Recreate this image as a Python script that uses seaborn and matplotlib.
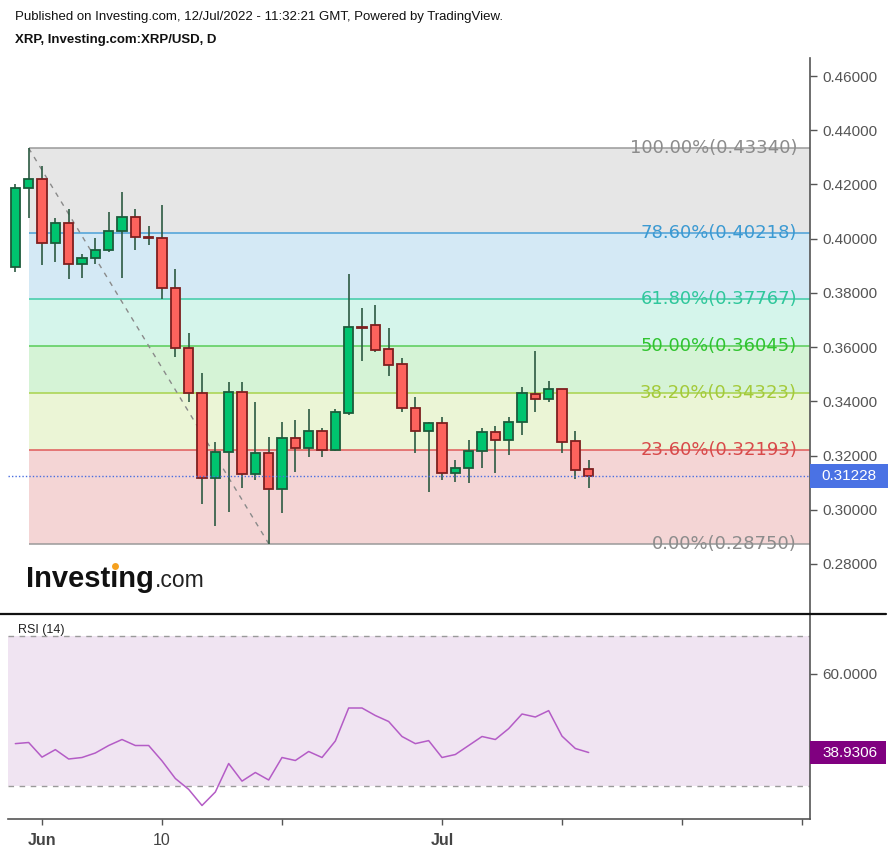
import numpy as np
import pandas as pd
import matplotlib
matplotlib.use('Agg')
import matplotlib.pyplot as plt
import matplotlib.dates as mdates
import matplotlib.transforms as mtransforms
from matplotlib.patches import Rectangle
from matplotlib.lines import Line2D
from matplotlib.ticker import FormatStrFormatter
import seaborn as sns

# ---------------- data ----------------
dates = pd.date_range('2022-05-30', '2022-07-12', freq='D')
opens = [0.3894, 0.4188, 0.4221, 0.3983, 0.4057, 0.3907, 0.3929, 0.3957, 0.4029, 0.4079,
         0.4005, 0.4003, 0.3817, 0.3596, 0.3430, 0.3116, 0.3214, 0.3436, 0.3132, 0.3208,
         0.3077, 0.3264, 0.3227, 0.3292, 0.3219, 0.3356, 0.3674, 0.3680, 0.3592, 0.3537,
         0.3375, 0.3292, 0.3320, 0.3137, 0.3153, 0.3216, 0.3286, 0.3258, 0.3325, 0.3426,
         0.3407, 0.3447, 0.3254, 0.3149]
highs = [0.4202, 0.4334, 0.4268, 0.4075, 0.4108, 0.3942, 0.4001, 0.4097, 0.4173, 0.4108,
         0.4047, 0.4124, 0.3887, 0.3653, 0.3503, 0.3249, 0.3470, 0.3470, 0.3399, 0.3267,
         0.3325, 0.3331, 0.3372, 0.3300, 0.3372, 0.3870, 0.3743, 0.3754, 0.3669, 0.3559,
         0.3415, 0.3325, 0.3343, 0.3184, 0.3256, 0.3300, 0.3310, 0.3343, 0.3454, 0.3587,
         0.3476, 0.3447, 0.3289, 0.3184]
lows = [0.3876, 0.4075, 0.3904, 0.3915, 0.3850, 0.3854, 0.3905, 0.3950, 0.3854, 0.3958,
        0.3976, 0.3776, 0.3565, 0.3399, 0.3020, 0.2941, 0.2991, 0.3079, 0.3110, 0.2875,
        0.2987, 0.3140, 0.3196, 0.3196, 0.3215, 0.3350, 0.3550, 0.3583, 0.3495, 0.3362,
        0.3208, 0.3064, 0.3110, 0.3104, 0.3098, 0.3153, 0.3134, 0.3202, 0.3276, 0.3362,
        0.3399, 0.3208, 0.3113, 0.3079]
closes = [0.4188, 0.4221, 0.3983, 0.4057, 0.3907, 0.3929, 0.3957, 0.4029, 0.4079, 0.4005,
          0.4003, 0.3817, 0.3596, 0.3430, 0.3116, 0.3214, 0.3436, 0.3132, 0.3208, 0.3077,
          0.3264, 0.3227, 0.3292, 0.3219, 0.3360, 0.3674, 0.3672, 0.3589, 0.3534, 0.3374,
          0.3292, 0.3320, 0.3137, 0.3153, 0.3216, 0.3286, 0.3258, 0.3325, 0.3431, 0.3407,
          0.3447, 0.3251, 0.3147, 0.31228]
rsi = [41.3, 41.6, 37.7, 39.7, 37.2, 37.6, 38.8, 40.8, 42.4, 40.8,
       40.8, 36.7, 32.0, 29.1, 24.8, 28.4, 36.0, 31.3, 33.6, 31.6,
       37.6, 36.8, 39.2, 37.6, 42.0, 50.8, 50.8, 48.8, 47.2, 43.2,
       41.3, 42.1, 37.6, 38.4, 40.8, 43.2, 42.4, 45.3, 49.2, 48.4,
       50.1, 43.3, 40.0, 38.9306]

fib_high = 0.4334
fib_low = 0.2875
fib_levels = [1.0, 0.786, 0.618, 0.5, 0.382, 0.236, 0.0]
fib_start = pd.Timestamp('2022-05-31')
fib_low_date = pd.Timestamp('2022-06-18')
last_price = 0.31228
last_rsi = 38.9306
price_ticks = [0.28, 0.30, 0.32, 0.34, 0.36, 0.38, 0.40, 0.42, 0.44, 0.46]
rsi_ticks = [60]
rsi_upper, rsi_lower = 70, 30
date_ticks = pd.to_datetime(['2022-06-01', '2022-06-10', '2022-06-19', '2022-07-01',
                             '2022-07-10', '2022-07-19', '2022-07-28'])
date_labels = ['Jun', '10', '', 'Jul', '', '', '']

# ---------------- style ----------------
W, H = 893, 852
sns.set_theme(style='white')
plt.rcParams['font.family'] = ['Liberation Sans', 'DejaVu Sans']

band_colors = ['#e6e6e6', '#d4e9f5', '#d5f5eb', '#d5f3d6', '#ebf5d6', '#f4d5d5']
line_colors = ['#9a9a9a', '#4aa0d8', '#3ecba6', '#58cc58', '#a8d34c', '#e05a5a', '#9a9a9a']
label_colors = ['#8c8c8c', '#3c9ad2', '#30c79c', '#30c430', '#a4ca3a', '#d84a4a', '#8c8c8c']

fig = plt.figure(figsize=(W / 100, H / 100), dpi=100)
fig.patch.set_facecolor('white')


def frac(x0, y0, x1, y1):
    return [x0 / W, 1 - y1 / H, (x1 - x0) / W, (y1 - y0) / H]


ax = fig.add_axes(frac(8, 58, 810, 614))
ax2 = fig.add_axes(frac(8, 614, 810, 819), sharex=ax)
for a in (ax, ax2):
    a.set_facecolor('white')

x = mdates.date2num(dates)
jun1 = mdates.date2num(pd.Timestamp('2022-06-01'))
xmin, xmax = jun1 - 2.55, jun1 + 57.6
ax.set_xlim(xmin, xmax)
ax.set_ylim(0.26155, 0.46664)
ax2.set_ylim(21.2, 75.87)

# ---------------- fibonacci ----------------
fx0 = mdates.date2num(fib_start)
fib_prices = [fib_low + lv * (fib_high - fib_low) for lv in fib_levels]
for i in range(len(fib_prices) - 1):
    ax.fill_between([fx0, xmax], fib_prices[i + 1], fib_prices[i],
                    color=band_colors[i], lw=0, zorder=0)
lab_x = (797 - 8) / (810 - 8)
btrans = mtransforms.blended_transform_factory(ax.transAxes, ax.transData)
for lv, p, lc, tc in zip(fib_levels, fib_prices, line_colors, label_colors):
    ax.hlines(p, fx0, xmax, color=lc, lw=1.1, zorder=1)
    ax.text(lab_x, p, f'{lv * 100:.2f}%({p:.5f})', transform=btrans, ha='right',
            va='center', fontsize=13, color=tc, family=['DejaVu Sans'], zorder=6)

ax.plot([fx0, mdates.date2num(fib_low_date)], [fib_high, fib_low], ls=(0, (3.5, 4)),
        color='#8a8a8a', lw=1, zorder=2)

# ---------------- candles ----------------
o = np.array(opens); c = np.array(closes); h = np.array(highs); l = np.array(lows)
up = c >= o
body_bot = np.minimum(o, c)
body_h = np.maximum(np.abs(c - o), 0.00015)
ax.vlines(x, l, h, color='#2c5a42', lw=1.2, zorder=3)
ax.bar(x, body_h, bottom=body_bot, width=0.7,
       color=np.where(up, '#00c46f', '#fd635d'),
       edgecolor=np.where(up, '#1c5c3b', '#7e1f1f'), linewidth=1.3, zorder=4)

# last price line + label
ax.axhline(last_price, color='#4a6ee0', ls=(0, (1, 1.5)), lw=1, zorder=5)
ylo, yhi = ax.get_ylim()
hpx = (yhi - ylo) / 556.0
ax.add_patch(Rectangle((1.0, last_price - 12 * hpx), 78 / 802, 24 * hpx, transform=btrans,
                       fc='#4a72e4', ec='none', clip_on=False, zorder=10))
ax.text(1.0 + 39 / 802, last_price, f'{last_price:.5f}', transform=btrans, ha='center',
        va='center', color='white', fontsize=11, zorder=11, clip_on=False)

# axes styling main
for s in ('top', 'left', 'bottom'):
    ax.spines[s].set_visible(False)
ax.spines['right'].set_color('#555555')
ax.spines['right'].set_linewidth(1.2)
ax.set_yticks(price_ticks)
ax.yaxis.set_major_formatter(FormatStrFormatter('%.5f'))
ax.yaxis.tick_right()
ax.tick_params(axis='y', right=True, left=False, labelright=True, labelleft=False,
               direction='out', length=5, width=1, color='#555555', labelcolor='#555555',
               labelsize=11, pad=4)
ax.tick_params(axis='x', bottom=False, labelbottom=False)

# ---------------- RSI ----------------
ax2.axhspan(rsi_lower, rsi_upper, color='#f0e4f2', lw=0, zorder=0)
for lvl in (rsi_upper, rsi_lower):
    ax2.axhline(lvl, ls=(0, (4, 4)), color='#9a9a9a', lw=1, zorder=1)
sns.lineplot(x=x, y=rsi, ax=ax2, color='#b45cc6', lw=1.1, zorder=3)
ax2.set_xlabel('')
ax2.set_ylabel('')
for s in ('top', 'left'):
    ax2.spines[s].set_visible(False)
for s in ('right', 'bottom'):
    ax2.spines[s].set_color('#555555')
    ax2.spines[s].set_linewidth(1.2)
ax2.set_yticks(rsi_ticks)
ax2.yaxis.set_major_formatter(FormatStrFormatter('%.4f'))
ax2.yaxis.tick_right()
ax2.tick_params(axis='y', right=True, left=False, labelright=True, labelleft=False,
                direction='out', length=5, width=1, color='#555555', labelcolor='#555555',
                labelsize=11, pad=4)
ax2.set_xticks(mdates.date2num(date_ticks))
ax2.set_xticklabels(date_labels)
ax2.tick_params(axis='x', bottom=True, direction='out', length=4, width=1,
                color='#555555', labelcolor='#444444', labelsize=11.5, pad=6)
for t in ax2.get_xticklabels():
    if t.get_text() in ('Jun', 'Jul'):
        t.set_fontweight('bold')
ax2.set_xlim(xmin, xmax)

b2 = mtransforms.blended_transform_factory(ax2.transAxes, ax2.transData)
ylo2, yhi2 = ax2.get_ylim()
hpx2 = (yhi2 - ylo2) / 205.0
ax2.add_patch(Rectangle((1.0, last_rsi - 11.5 * hpx2), 76 / 802, 23 * hpx2, transform=b2,
                        fc='#800080', ec='none', clip_on=False, zorder=10))
ax2.text(1.0 + 40 / 802, last_rsi, f'{last_rsi:.4f}', transform=b2, ha='center',
         va='center', color='white', fontsize=11, zorder=11, clip_on=False)

# separator
fig.add_artist(Line2D([0, 886 / W], [1 - 614 / H] * 2, color='#111111', lw=1.6,
                      transform=fig.transFigure))

# ---------------- texts ----------------
fig.text(15 / W, 1 - 17 / H, 'Published on Investing.com, 12/Jul/2022 - 11:32:21 GMT, '
         'Powered by TradingView.', fontsize=9.5, va='center', color='#111111')
fig.text(15 / W, 1 - 40 / H, 'XRP, Investing.com:XRP/USD, D', fontsize=9.5,
         fontweight='bold', va='center', color='#111111')
fig.text(18 / W, 1 - 630 / H, 'RSI (14)', fontsize=9, va='center', color='#222222')

# logo
fig.canvas.draw()
renderer = fig.canvas.get_renderer()
logo_kw = dict(fontsize=21, fontweight='bold', va='baseline', color='#111111')
base_y = 1 - 587 / H
t_logo = fig.text(26 / W, base_y, 'Invest\u0131ng', **logo_kw)
t_pre = fig.text(26 / W, base_y, 'Invest', alpha=0, **logo_kw)
t_pre2 = fig.text(26 / W, base_y, 'Invest\u0131', alpha=0, **logo_kw)
e_logo = t_logo.get_window_extent(renderer)
e1 = t_pre.get_window_extent(renderer)
e2 = t_pre2.get_window_extent(renderer)
dot_x = (e1.x1 + e2.x1) / 2 + 1
dot_y = H - 566
fig.add_artist(Line2D([dot_x / W], [dot_y / H], marker='o', ms=5, color='#f5a01e',
                      mec='none', transform=fig.transFigure))
fig.text(e_logo.x1 / W + 1 / W, base_y, '.com', fontsize=16.5, va='baseline', color='#222222')

fig.savefig('out.png', dpi=100, facecolor='white')
